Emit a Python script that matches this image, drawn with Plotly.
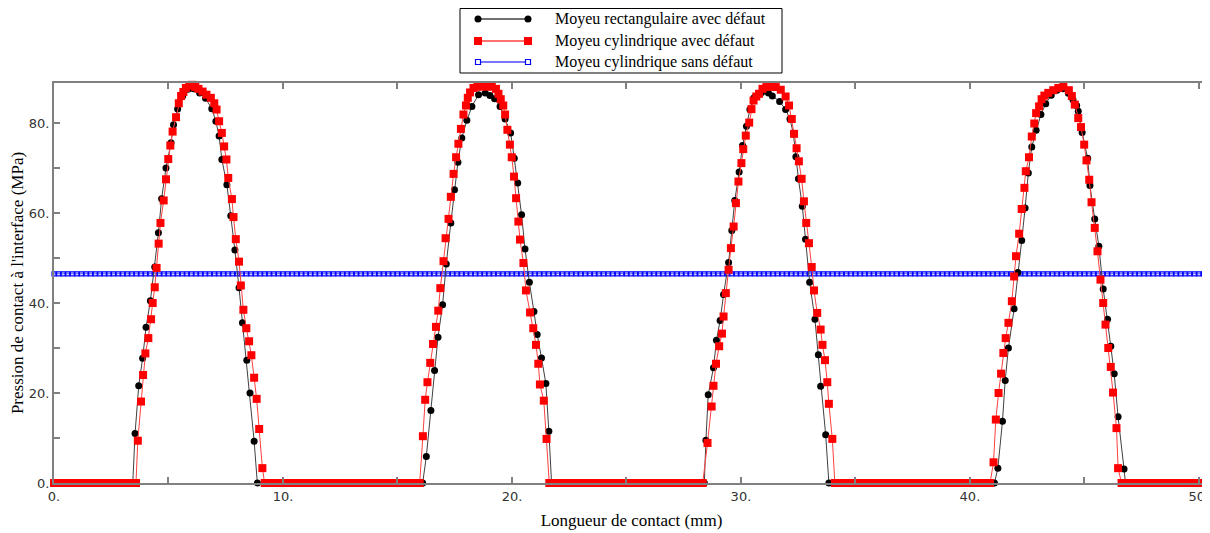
import plotly.graph_objects as go

# ---------------- data ----------------
# Moyeu rectangulaire avec défaut : nonzero contact zones (mm, MPa)
rect_peak_x = [
    3.44, 3.54, 3.70, 3.87, 4.02, 4.21, 4.40, 4.56, 4.70, 4.89, 5.11, 5.22, 5.40, 5.62, 5.85,
    6.10, 6.36, 6.62, 6.89, 7.07, 7.21, 7.33, 7.55, 7.72, 7.90, 8.08, 8.23, 8.42, 8.56, 8.74, 8.88,
    16.10, 16.26, 16.46, 16.62, 16.77, 16.97, 17.13, 17.33, 17.49, 17.64, 17.81, 18.03, 18.25,
    18.54, 18.83, 19.04, 19.24, 19.48, 19.70, 19.94, 20.10, 20.25, 20.42, 20.57, 20.76, 20.96,
    21.10, 21.29, 21.48, 21.61, 21.73,
    28.40, 28.47, 28.57, 28.80, 28.93, 29.09, 29.24, 29.46, 29.60, 29.73, 29.92, 30.07, 30.24,
    30.39, 30.57, 30.90, 31.20, 31.37, 31.69, 31.95, 32.14, 32.29, 32.40, 32.51, 32.68, 32.82,
    33.00, 33.23, 33.38, 33.48, 33.70, 33.84,
    41.07, 41.22, 41.42, 41.54, 41.68, 41.93, 42.09, 42.26, 42.41, 42.55, 42.70, 42.89, 43.10,
    43.31, 43.55, 43.80, 44.05, 44.30, 44.50, 44.66, 44.73, 44.90, 45.14, 45.24, 45.45, 45.63,
    45.82, 46.01, 46.15, 46.30, 46.47, 46.73, 46.79,
]
rect_peak_y = [
    0.0, 11.0, 21.6, 27.7, 34.6, 40.5, 48.0, 55.6, 63.2, 70.0, 75.6, 79.6, 83.1, 86.0, 87.5,
    87.6, 86.7, 85.5, 83.2, 80.4, 77.1, 71.9, 66.3, 59.4, 51.8, 43.4, 35.6, 27.3, 20.0, 9.3, 0.0,
    0.0, 5.9, 16.1, 25.0, 32.4, 39.6, 48.7, 57.8, 65.2, 71.3, 76.7, 80.6, 83.7,
    86.3, 86.7, 86.1, 85.4, 83.7, 80.9, 77.8, 72.2, 66.7, 59.6, 52.0, 44.6, 38.1,
    33.0, 27.8, 22.1, 11.5, 0.0,
    0.0, 9.5, 19.6, 25.6, 31.7, 36.1, 41.9, 49.0, 56.1, 62.8, 69.1, 75.0, 79.3,
    83.0, 85.6, 86.8, 86.7, 86.0, 84.8, 83.0, 80.9, 77.6, 72.5, 67.6, 61.5, 54.2,
    44.6, 36.4, 28.5, 21.5, 10.7, 0.0,
    0.0, 3.3, 13.7, 22.8, 30.0, 38.7, 46.8, 53.9, 61.1, 68.9, 74.7, 78.4, 81.9,
    84.3, 86.2, 87.3, 87.6, 86.6, 85.2, 83.9, 82.6, 77.9, 72.2, 66.1, 58.7, 52.6,
    43.1, 36.4, 30.4, 24.3, 14.7, 3.1, 0.0,
]
# positions where the rectangular hub has zero contact pressure
rect_zero_x = [
    0.0, 0.2, 0.4, 0.6, 0.8, 1.0, 1.2, 1.4, 1.6, 1.8, 2.0, 2.2, 2.4, 2.6, 2.8, 3.0, 3.2,
    9.2, 9.4, 9.6, 9.8, 10.0, 10.2, 10.4, 10.6, 10.8, 11.0, 11.2, 11.4, 11.6, 11.8, 12.0,
    12.2, 12.4, 12.6, 12.8, 13.0, 13.2, 13.4, 13.6, 13.8, 14.0, 14.2, 14.4, 14.6, 14.8,
    15.0, 15.2, 15.4, 15.6, 15.8,
    21.9, 22.1, 22.3, 22.5, 22.7, 22.9, 23.1, 23.3, 23.5, 23.7, 23.9, 24.1, 24.3, 24.5,
    24.7, 24.9, 25.1, 25.3, 25.5, 25.7, 25.9, 26.1, 26.3, 26.5, 26.7, 26.9, 27.1, 27.3,
    27.5, 27.7, 27.9, 28.1,
    34.1, 34.3, 34.5, 34.7, 34.9, 35.1, 35.3, 35.5, 35.7, 35.9, 36.1, 36.3, 36.5, 36.7,
    36.9, 37.1, 37.3, 37.5, 37.7, 37.9, 38.1, 38.3, 38.5, 38.7, 38.9, 39.1, 39.3, 39.5,
    39.7, 39.9, 40.1, 40.3, 40.5, 40.7, 40.9,
    47.0, 47.2, 47.4, 47.6, 47.8, 48.0, 48.2, 48.4, 48.6, 48.8, 49.0, 49.2, 49.4, 49.6,
    49.8, 50.0, 50.2,
]

# Moyeu cylindrique avec défaut : nonzero contact zones (mm, MPa)
cyl_peak_x = [
    3.58, 3.66, 3.80, 3.89, 3.99, 4.12, 4.24, 4.31, 4.40, 4.48, 4.57, 4.65, 4.79, 4.89, 4.99,
    5.08, 5.18, 5.33, 5.45, 5.55, 5.65, 5.76, 5.91, 6.03, 6.17, 6.31, 6.49, 6.66, 6.85, 7.00,
    7.10, 7.21, 7.33, 7.43, 7.53, 7.61, 7.77, 7.84, 7.94, 8.08, 8.16, 8.27, 8.40, 8.52, 8.62,
    8.74, 8.85, 8.96, 9.10, 9.20,
    15.97, 16.11, 16.21, 16.31, 16.43, 16.55, 16.68, 16.78, 16.87, 17.01, 17.10, 17.23, 17.33,
    17.45, 17.56, 17.66, 17.77, 17.88, 17.99, 18.07, 18.17, 18.32, 18.49, 18.68, 18.90, 19.12,
    19.30, 19.41, 19.51, 19.62, 19.70, 19.80, 19.91, 19.99, 20.09, 20.18, 20.28, 20.35, 20.50,
    20.61, 20.79, 20.93, 21.05, 21.15, 21.22, 21.39, 21.51, 21.63,
    28.33, 28.54, 28.72, 28.80, 28.91, 29.05, 29.17, 29.24, 29.34, 29.46, 29.56, 29.68, 29.78,
    29.89, 30.02, 30.10, 30.21, 30.36, 30.46, 30.55, 30.67, 30.79, 30.94, 31.11, 31.30, 31.52,
    31.74, 31.95, 32.10, 32.22, 32.32, 32.43, 32.53, 32.65, 32.75, 32.85, 32.97, 33.09, 33.19,
    33.33, 33.48, 33.56, 33.67, 33.77, 33.84, 33.99, 34.10,
    40.88, 41.03, 41.13, 41.25, 41.36, 41.46, 41.56, 41.68, 41.83, 41.93, 42.01, 42.15, 42.26,
    42.38, 42.44, 42.58, 42.70, 42.81, 42.89, 43.02, 43.13, 43.25, 43.42, 43.64, 43.86, 44.08,
    44.32, 44.45, 44.58, 44.73, 44.85, 44.99, 45.09, 45.21, 45.31, 45.45, 45.57, 45.70, 45.82,
    45.92, 46.04, 46.15, 46.25, 46.40, 46.47, 46.62,
]
cyl_peak_y = [
    0.0, 9.4, 18.1, 24.0, 28.8, 32.2, 36.4, 40.0, 43.5, 47.8, 53.2, 57.8, 62.8, 67.5, 72.0,
    75.0, 78.1, 81.3, 84.4, 86.0, 86.9, 87.8, 88.3, 88.5, 88.0, 87.6, 87.0, 86.3, 85.6, 84.4,
    83.0, 80.4, 77.8, 74.8, 71.9, 67.8, 63.1, 59.1, 54.2, 49.2, 43.9, 38.5, 34.4, 31.5, 28.4,
    23.4, 18.7, 12.0, 3.3, 0.0,
    0.0, 10.4, 18.5, 22.4, 26.7, 30.9, 34.7, 38.3, 43.3, 49.3, 54.4, 58.7, 63.6,
    68.7, 72.4, 75.4, 78.7, 81.9, 83.9, 85.6, 86.8, 87.8, 88.1, 88.1, 88.1, 88.1,
    87.6, 86.5, 85.3, 83.9, 81.9, 78.5, 75.2, 72.4, 68.1, 63.3, 58.1, 54.1, 48.9,
    42.8, 37.9, 34.4, 30.7, 26.5, 21.9, 18.3, 9.8, 0.0,
    0.0, 8.9, 17.0, 21.6, 26.5, 30.4, 33.2, 37.0, 42.2, 47.4, 52.2, 57.0, 62.2,
    67.0, 71.1, 74.2, 77.2, 80.1, 83.1, 85.0, 85.9, 86.5, 87.6, 88.0, 88.1, 88.0,
    87.4, 85.9, 83.9, 80.9, 77.6, 74.4, 71.5, 67.6, 62.6, 57.8, 53.3, 48.0, 42.8,
    37.8, 34.1, 30.7, 27.3, 22.4, 17.6, 9.8, 0.0,
    0.0, 4.6, 14.1, 20.0, 24.3, 28.9, 32.2, 35.6, 40.4, 45.9, 50.4, 55.4, 60.9,
    65.6, 69.3, 72.4, 77.0, 79.9, 82.2, 83.7, 85.3, 86.1, 86.7, 87.3, 87.8, 88.1,
    87.3, 86.0, 84.1, 81.1, 79.1, 75.2, 71.7, 67.4, 62.4, 56.7, 51.5, 45.2, 40.0,
    35.2, 30.0, 25.8, 20.1, 12.2, 3.3, 0.0,
]
# positions where the cylindrical hub (with defect) has zero contact pressure
cyl_zero_x = [
    0.0, 0.2, 0.4, 0.6, 0.8, 1.0, 1.2, 1.4, 1.6, 1.8, 2.0, 2.2, 2.4, 2.6, 2.8, 3.0, 3.2, 3.4,
    9.4, 9.6, 9.8, 10.0, 10.2, 10.4, 10.6, 10.8, 11.0, 11.2, 11.4, 11.6, 11.8, 12.0,
    12.2, 12.4, 12.6, 12.8, 13.0, 13.2, 13.4, 13.6, 13.8, 14.0, 14.2, 14.4, 14.6, 14.8,
    15.0, 15.2, 15.4, 15.6, 15.8,
    21.8, 22.0, 22.2, 22.4, 22.6, 22.8, 23.0, 23.2, 23.4, 23.6, 23.8, 24.0, 24.2, 24.4,
    24.6, 24.8, 25.0, 25.2, 25.4, 25.6, 25.8, 26.0, 26.2, 26.4, 26.6, 26.8, 27.0, 27.2,
    27.4, 27.6, 27.8, 28.0, 28.2,
    34.3, 34.5, 34.7, 34.9, 35.1, 35.3, 35.5, 35.7, 35.9, 36.1, 36.3, 36.5, 36.7, 36.9,
    37.1, 37.3, 37.5, 37.7, 37.9, 38.1, 38.3, 38.5, 38.7, 38.9, 39.1, 39.3, 39.5, 39.7,
    39.9, 40.1, 40.3, 40.5, 40.7,
    46.8, 47.0, 47.2, 47.4, 47.6, 47.8, 48.0, 48.2, 48.4, 48.6, 48.8, 49.0, 49.2, 49.4,
    49.6, 49.8, 50.0, 50.2,
]

# Moyeu cylindrique sans défaut : uniform pressure at every node
sans_x = [
    0.0, 0.2, 0.4, 0.6, 0.8, 1.0, 1.2, 1.4, 1.6, 1.8,
    2.0, 2.2, 2.4, 2.6, 2.8, 3.0, 3.2, 3.4, 3.6, 3.8,
    4.0, 4.2, 4.4, 4.6, 4.8, 5.0, 5.2, 5.4, 5.6, 5.8,
    6.0, 6.2, 6.4, 6.6, 6.8, 7.0, 7.2, 7.4, 7.6, 7.8,
    8.0, 8.2, 8.4, 8.6, 8.8, 9.0, 9.2, 9.4, 9.6, 9.8,
    10.0, 10.2, 10.4, 10.6, 10.8, 11.0, 11.2, 11.4, 11.6, 11.8,
    12.0, 12.2, 12.4, 12.6, 12.8, 13.0, 13.2, 13.4, 13.6, 13.8,
    14.0, 14.2, 14.4, 14.6, 14.8, 15.0, 15.2, 15.4, 15.6, 15.8,
    16.0, 16.2, 16.4, 16.6, 16.8, 17.0, 17.2, 17.4, 17.6, 17.8,
    18.0, 18.2, 18.4, 18.6, 18.8, 19.0, 19.2, 19.4, 19.6, 19.8,
    20.0, 20.2, 20.4, 20.6, 20.8, 21.0, 21.2, 21.4, 21.6, 21.8,
    22.0, 22.2, 22.4, 22.6, 22.8, 23.0, 23.2, 23.4, 23.6, 23.8,
    24.0, 24.2, 24.4, 24.6, 24.8, 25.0, 25.2, 25.4, 25.6, 25.8,
    26.0, 26.2, 26.4, 26.6, 26.8, 27.0, 27.2, 27.4, 27.6, 27.8,
    28.0, 28.2, 28.4, 28.6, 28.8, 29.0, 29.2, 29.4, 29.6, 29.8,
    30.0, 30.2, 30.4, 30.6, 30.8, 31.0, 31.2, 31.4, 31.6, 31.8,
    32.0, 32.2, 32.4, 32.6, 32.8, 33.0, 33.2, 33.4, 33.6, 33.8,
    34.0, 34.2, 34.4, 34.6, 34.8, 35.0, 35.2, 35.4, 35.6, 35.8,
    36.0, 36.2, 36.4, 36.6, 36.8, 37.0, 37.2, 37.4, 37.6, 37.8,
    38.0, 38.2, 38.4, 38.6, 38.8, 39.0, 39.2, 39.4, 39.6, 39.8,
    40.0, 40.2, 40.4, 40.6, 40.8, 41.0, 41.2, 41.4, 41.6, 41.8,
    42.0, 42.2, 42.4, 42.6, 42.8, 43.0, 43.2, 43.4, 43.6, 43.8,
    44.0, 44.2, 44.4, 44.6, 44.8, 45.0, 45.2, 45.4, 45.6, 45.8,
    46.0, 46.2, 46.4, 46.6, 46.8, 47.0, 47.2, 47.4, 47.6, 47.8,
    48.0, 48.2, 48.4, 48.6, 48.8, 49.0, 49.2, 49.4, 49.6, 49.8,
    50.0, 50.2,
]
sans_pressure = 46.5

series_names = [
    "Moyeu rectangulaire avec défaut",
    "Moyeu cylindrique avec défaut",
    "Moyeu cylindrique sans défaut",
]
x_title = "Longueur de contact (mm)"
y_title = "Pression de contact à l'interface (MPa)"


def merge(peak_x, peak_y, zero_x):
    pts = sorted(list(zip(peak_x, peak_y)) + [(x, 0.0) for x in zero_x])
    return [p[0] for p in pts], [p[1] for p in pts]


rect_x, rect_y = merge(rect_peak_x, rect_peak_y, rect_zero_x)
cyl_x, cyl_y = merge(cyl_peak_x, cyl_peak_y, cyl_zero_x)
sans_y = [sans_pressure for _ in sans_x]

# ---------------- styles ----------------
styles = {
    series_names[0]: dict(line="#404040", marker="#000000", kind="circle", size=7, fill="#000000"),
    series_names[1]: dict(line="#ff4040", marker="#ff0000", kind="rect", size=8, fill="#ff0000"),
    series_names[2]: dict(line="#4848ff", marker="#0000ff", kind="rect", size=5, fill="white"),
}

fig = go.Figure()
fig.add_trace(go.Scatter(
    x=sans_x, y=sans_y, mode="lines+markers", name=series_names[2], showlegend=False,
    line=dict(color=styles[series_names[2]]["line"], width=1),
    marker=dict(symbol="square-open", size=4, color="#0000ff", line=dict(width=1.2, color="#0000ff")),
    cliponaxis=False,
))
fig.add_trace(go.Scatter(
    x=rect_x, y=rect_y, mode="lines+markers", name=series_names[0], showlegend=False,
    line=dict(color=styles[series_names[0]]["line"], width=1),
    marker=dict(symbol="circle", size=7, color="#000000", line=dict(width=0)),
    cliponaxis=False,
))
fig.add_trace(go.Scatter(
    x=cyl_x, y=cyl_y, mode="lines+markers", name=series_names[1], showlegend=False,
    line=dict(color=styles[series_names[1]]["line"], width=1),
    marker=dict(symbol="square", size=8, color="#ff0000", line=dict(width=0)),
    cliponaxis=False,
))

# ---------------- layout geometry (figure pixels) ----------------
# the page adds an 8 px body margin, so the figure is 8 px smaller than the window
FIG_W, FIG_H = 1202, 525
M_L, M_R, M_T, M_B = 46, 1, 75, 50
PLOT_W = FIG_W - M_L - M_R
PLOT_H = FIG_H - M_T - M_B


def px_to_paper_x(px):
    return (px - M_L) / PLOT_W


def px_to_paper_y(py):
    return (FIG_H - M_B - py) / PLOT_H


# framed legend drawn above the plot area (two markers per sample, as in the original)
legend_box = dict(x0=452, x1=774, y0=0.5, y1=65)
legend_rows_y = [11, 33, 54]
legend_line_x = (470, 520)
legend_text_x = 545

shapes = [dict(
    type="rect", xref="paper", yref="paper", layer="above",
    x0=px_to_paper_x(legend_box["x0"]), x1=px_to_paper_x(legend_box["x1"]),
    y0=px_to_paper_y(legend_box["y1"]), y1=px_to_paper_y(legend_box["y0"]),
    line=dict(color="black", width=1), fillcolor="white",
)]
annotations = []
for name, row_y in zip(series_names, legend_rows_y):
    st = styles[name]
    yy = px_to_paper_y(row_y)
    shapes.append(dict(
        type="line", xref="paper", yref="paper", layer="above",
        x0=px_to_paper_x(legend_line_x[0]), x1=px_to_paper_x(legend_line_x[1]), y0=yy, y1=yy,
        line=dict(color=st["line"], width=1.5),
    ))
    h = st["size"] / 2
    for lx in legend_line_x:
        shapes.append(dict(
            type=st["kind"], xref="paper", yref="paper", layer="above",
            xsizemode="pixel", ysizemode="pixel",
            xanchor=px_to_paper_x(lx), yanchor=yy,
            x0=-h, x1=h, y0=-h, y1=h,
            fillcolor=st["fill"], line=dict(color=st["marker"], width=1.2 if st["fill"] == "white" else 0),
        ))
    annotations.append(dict(
        text=name, xref="paper", yref="paper", x=px_to_paper_x(legend_text_x), y=yy,
        xanchor="left", yanchor="middle", showarrow=False,
        font=dict(family="Liberation Serif", size=16, color="black"),
    ))

axis_common = dict(
    showgrid=False, zeroline=False, showline=True, linecolor="#808080", linewidth=2,
    mirror="allticks", ticks="inside", ticklen=6, tickwidth=1.5, tickcolor="#808080",
    ticksuffix=".", tickfont=dict(family="DejaVu Sans", size=13, color="#333333"),
)
fig.update_layout(
    width=FIG_W, height=FIG_H,
    margin=dict(l=M_L, r=M_R, t=M_T, b=M_B, autoexpand=False),
    paper_bgcolor="white", plot_bgcolor="white",
    xaxis=dict(range=[0, 50.44], tick0=0, dtick=10, automargin=False,
               minor=dict(dtick=5, ticks="inside", ticklen=6, tickcolor="#808080"),
               title=dict(text=x_title, font=dict(family="Liberation Serif", size=17, color="black"),
                          standoff=12),
               **axis_common),
    yaxis=dict(range=[0, 88.9], tick0=0, dtick=20, automargin=False,
               minor=dict(dtick=10, ticks="inside", ticklen=6, tickcolor="#808080"),
               title=dict(text=y_title, font=dict(family="Liberation Serif", size=17, color="black"),
                          standoff=6),
               **axis_common),
    shapes=shapes,
    annotations=annotations,
    showlegend=False,
)

fig.write_html("out.html")
